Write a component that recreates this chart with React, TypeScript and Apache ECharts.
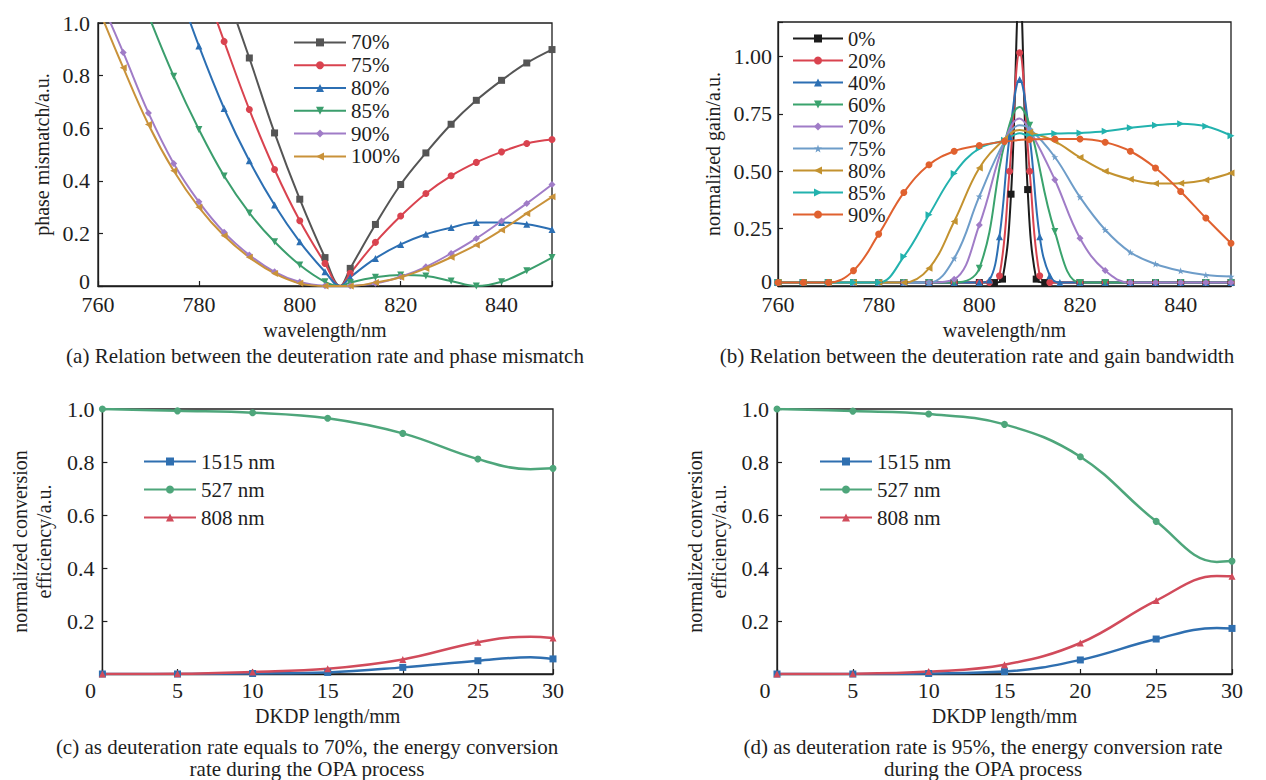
import { useEffect, useRef } from 'react';
import * as echarts from 'echarts';

const FONT = '"Liberation Serif", "Times New Roman", serif';
const INK = '#1e1e1e';

// ---------- (a) phase mismatch ----------
const PHASE_NAMES = ['70%', '75%', '80%', '85%', '90%', '100%'];
const PHASE_COLORS = ['#555555', '#d9434f', '#2c6fb3', '#3b9e6d', '#a07cc7', '#c9923a'];
const phase70 = [[785, 1.14], [790, 0.867], [795, 0.582], [800, 0.33], [805, 0.108], [808, 0], [810, 0.067], [815, 0.234], [820, 0.386], [825, 0.506], [830, 0.615], [835, 0.706], [840, 0.782], [845, 0.848], [850, 0.899]];
const phase75 = [[780, 1.2], [785, 0.93], [790, 0.671], [795, 0.443], [800, 0.248], [805, 0.086], [808, 0], [810, 0.048], [815, 0.166], [820, 0.266], [825, 0.352], [830, 0.419], [835, 0.47], [840, 0.51], [845, 0.542], [850, 0.557]];
const phase80 = [[775, 1.18], [780, 0.913], [785, 0.675], [790, 0.476], [795, 0.308], [800, 0.168], [805, 0.054], [808, 0], [810, 0.033], [815, 0.105], [820, 0.158], [825, 0.197], [830, 0.222], [835, 0.241], [840, 0.241], [845, 0.235], [850, 0.215]];
const phase85 = [[770, 1.03], [775, 0.798], [780, 0.595], [785, 0.418], [790, 0.278], [795, 0.168], [800, 0.08], [805, 0.016], [808, 0], [810, 0.013], [815, 0.033], [820, 0.042], [825, 0.038], [830, 0.019], [835, 0.0], [840, 0.016], [845, 0.058], [850, 0.108]];
const phase90 = [[760, 1.11], [765, 0.888], [770, 0.658], [775, 0.466], [780, 0.32], [785, 0.204], [790, 0.118], [795, 0.054], [800, 0.015], [805, 0.001], [808, 0], [810, 0.001], [815, 0.01], [820, 0.035], [825, 0.073], [830, 0.124], [835, 0.181], [840, 0.247], [845, 0.314], [850, 0.386]];
const phase100 = [[760, 1.06], [765, 0.83], [770, 0.614], [775, 0.438], [780, 0.299], [785, 0.191], [790, 0.109], [795, 0.048], [800, 0.01], [805, 0], [808, 0], [810, 0], [815, 0.013], [820, 0.033], [825, 0.067], [830, 0.109], [835, 0.156], [840, 0.213], [845, 0.276], [850, 0.339]];
const PHASE_DATA = [phase70, phase75, phase80, phase85, phase90, phase100];
const PHASE_HIDDEN_X = [808];

// ---------- (b) normalized gain ----------
const GAIN_NAMES = ['0%', '20%', '40%', '60%', '70%', '75%', '80%', '85%', '90%'];
const GAIN_COLORS = ['#1c1c1c', '#d9434f', '#2c6fb3', '#3aa36d', '#a07cc7', '#6e9dc9', '#c3922f', '#22b2ae', '#e0612f'];
const gain0 = [[760, 0.015], [765, 0.015], [770, 0.015], [775, 0.015], [780, 0.015], [785, 0.015], [790, 0.015], [795, 0.015], [800, 0.015], [803, 0.015], [804.6, 0.03], [806.3, 0.4], [808, 1.3], [809.6, 0.42], [811.3, 0.03], [813, 0.015], [820, 0.015], [825, 0.015], [830, 0.015], [835, 0.015], [840, 0.015], [845, 0.015], [850, 0.015]];
const gain20 = [[760, 0.015], [765, 0.015], [770, 0.015], [775, 0.015], [780, 0.015], [785, 0.015], [790, 0.015], [795, 0.015], [800, 0.015], [802, 0.015], [804, 0.045], [806, 0.5], [808, 1.016], [810, 0.5], [812, 0.045], [814, 0.015], [820, 0.015], [825, 0.015], [830, 0.015], [835, 0.015], [840, 0.015], [845, 0.015], [850, 0.015]];
const gain40 = [[760, 0.015], [765, 0.015], [770, 0.015], [775, 0.015], [780, 0.015], [785, 0.015], [790, 0.015], [795, 0.015], [800, 0.015], [802, 0.026], [804, 0.215], [806, 0.65], [808, 0.9], [810, 0.65], [812, 0.215], [814, 0.045], [816, 0.015], [820, 0.015], [825, 0.015], [830, 0.015], [835, 0.015], [840, 0.015], [845, 0.015], [850, 0.015]];
const gain60 = [[760, 0.015], [765, 0.015], [770, 0.015], [775, 0.015], [780, 0.015], [785, 0.015], [790, 0.015], [795, 0.015], [800, 0.077], [805, 0.62], [808, 0.78], [810, 0.7], [815, 0.237], [820, 0.015], [825, 0.015], [830, 0.015], [835, 0.015], [840, 0.015], [845, 0.015], [850, 0.015]];
const gain70 = [[760, 0.015], [765, 0.015], [770, 0.015], [775, 0.015], [780, 0.015], [785, 0.015], [790, 0.015], [795, 0.029], [800, 0.266], [805, 0.63], [808, 0.73], [810, 0.68], [815, 0.463], [820, 0.208], [825, 0.067], [830, 0.015], [835, 0.015], [840, 0.015], [845, 0.015], [850, 0.015]];
const gain75 = [[760, 0.015], [765, 0.015], [770, 0.015], [775, 0.015], [780, 0.015], [785, 0.015], [790, 0.015], [795, 0.12], [800, 0.39], [805, 0.63], [808, 0.7], [810, 0.685], [815, 0.562], [820, 0.387], [825, 0.245], [830, 0.147], [835, 0.096], [840, 0.066], [845, 0.048], [850, 0.041]];
const gain80 = [[760, 0.015], [765, 0.015], [770, 0.015], [775, 0.015], [780, 0.015], [785, 0.015], [790, 0.077], [795, 0.281], [800, 0.514], [805, 0.64], [808, 0.68], [810, 0.67], [815, 0.63], [820, 0.56], [825, 0.5], [830, 0.465], [835, 0.446], [840, 0.448], [845, 0.462], [850, 0.492]];
const gain85 = [[760, 0.015], [765, 0.015], [770, 0.015], [775, 0.015], [780, 0.015], [785, 0.128], [790, 0.31], [795, 0.49], [800, 0.6], [805, 0.635], [808, 0.665], [810, 0.655], [815, 0.664], [820, 0.667], [825, 0.674], [830, 0.689], [835, 0.7], [840, 0.707], [845, 0.696], [850, 0.655]];
const gain90 = [[760, 0.015], [765, 0.015], [770, 0.015], [775, 0.067], [780, 0.226], [785, 0.407], [790, 0.528], [795, 0.587], [800, 0.612], [805, 0.63], [810, 0.638], [815, 0.64], [820, 0.64], [825, 0.626], [830, 0.587], [835, 0.514], [840, 0.412], [845, 0.296], [850, 0.186]];
const GAIN_DATA = [gain0, gain20, gain40, gain60, gain70, gain75, gain80, gain85, gain90];
const GAIN_HIDDEN_X = [[], [], [], [808], [808], [808], [808], [808], []];

// ---------- (c), (d) conversion efficiency ----------
const CONV_NAMES = ['1515 nm', '527 nm', '808 nm'];
const CONV_COLORS = ['#2f6fb0', '#4ea67b', '#d14b5b'];
const lengthC = [0, 5, 10, 15, 20, 25, 28.5, 30];
const c1515 = [0, 0, 0.002, 0.006, 0.025, 0.05, 0.063, 0.057];
const c527 = [1.0, 0.993, 0.986, 0.965, 0.908, 0.811, 0.773, 0.776];
const c808 = [0, 0.001, 0.008, 0.02, 0.055, 0.12, 0.141, 0.136];
const lengthD = [0, 5, 10, 15, 20, 25, 29, 30];
const d1515 = [0, 0, 0.002, 0.009, 0.053, 0.132, 0.174, 0.172];
const d527 = [1.0, 0.992, 0.981, 0.942, 0.82, 0.576, 0.423, 0.426];
const d808 = [0, 0.001, 0.009, 0.035, 0.117, 0.277, 0.37, 0.369];
const CONV_HIDDEN_C = [28.5];
const CONV_HIDDEN_D = [29];

const DOWN_TRI = 'path://M0,0 L10,0 L5,9 Z';
const LEFT_TRI = 'path://M0,5 L9,0 L9,10 Z';
const RIGHT_TRI = 'path://M0,0 L9,5 L0,10 Z';
const STAR = 'path://M5,0 L6.2,3.6 L10,3.6 L7,5.9 L8.1,9.5 L5,7.3 L1.9,9.5 L3,5.9 L0,3.6 L3.8,3.6 Z';
const PHASE_SYMBOLS = ['rect', 'circle', 'triangle', DOWN_TRI, 'diamond', LEFT_TRI];
const GAIN_SYMBOLS = ['rect', 'circle', 'triangle', DOWN_TRI, 'diamond', STAR, LEFT_TRI, RIGHT_TRI, 'circle'];
const CONV_SYMBOLS = ['rect', 'circle', 'triangle'];

function toData(pts: number[][], hidden: number[]) {
  return pts.map(([x, y]) => (hidden.includes(x) ? { value: [x, y], symbol: 'none' } : [x, y]));
}

function zip(xs: number[], ys: number[]) {
  return xs.map((x, i) => [x, ys[i]]);
}

const TICK_FS = 22;
const axisText = { fontFamily: FONT, fontSize: TICK_FS, color: INK };
const nameText = { fontFamily: FONT, fontSize: 20, color: INK };
const zeroRich = { z: { fontFamily: FONT, fontSize: TICK_FS, color: INK, padding: [0, 0, 10, 0] } };

function caption(lines: string[], x: number, y: number) {
  return lines.map((t, i) => ({
    type: 'text',
    x,
    y: y + i * 22,
    silent: true,
    style: { text: t, fill: INK, fontFamily: FONT, fontSize: 21, align: 'center', verticalAlign: 'middle' },
  }));
}

function baseAxis(extra: any) {
  return {
    type: 'value',
    axisLine: { show: true, lineStyle: { color: INK, width: 1.3 } },
    axisTick: { show: true, inside: true, length: 5, lineStyle: { color: INK, width: 1.2 } },
    splitLine: { show: false },
    nameLocation: 'middle',
    nameTextStyle: nameText,
    ...extra,
  };
}

function lineSeries(name: string, data: any[], color: string, symbol: string, size: number, width: number) {
  return {
    type: 'line',
    name,
    data,
    smooth: 0.4,
    symbol,
    symbolSize: size,
    showAllSymbol: true,
    clip: true,
    lineStyle: { color, width },
    itemStyle: { color },
  };
}

const optionA = {
  animation: false,
  textStyle: { fontFamily: FONT },
  grid: { left: 98, top: 23, width: 454, height: 263, show: true, borderColor: INK, borderWidth: 1.3 },
  legend: {
    orient: 'vertical', left: 293, top: 31.5, padding: 0, itemWidth: 52, itemHeight: 10, itemGap: 1,
    textStyle: { fontFamily: FONT, fontSize: 21, color: INK, lineHeight: 21.8 },
    data: PHASE_NAMES,
  },
  xAxis: baseAxis({
    min: 760, max: 850, interval: 20,
    axisLabel: { ...axisText, margin: 7, formatter: (v: number) => (v % 20 === 0 ? String(v) : '') },
    name: 'wavelength/nm', nameGap: 30,
  }),
  yAxis: baseAxis({
    min: 0, max: 1, interval: 0.2,
    axisLabel: { ...axisText, margin: 8, rich: zeroRich, formatter: (v: number) => (v === 0 ? '{z|0}' : v.toFixed(1)) },
    name: 'phase mismatch/a.u.', nameGap: 42,
  }),
  series: PHASE_NAMES.map((n, i) => lineSeries(n, toData(PHASE_DATA[i], PHASE_HIDDEN_X), PHASE_COLORS[i], PHASE_SYMBOLS[i], 7, 2)),
  graphic: caption(['(a) Relation between the deuteration rate and phase mismatch'], 325, 356),
};

const optionB = {
  animation: false,
  textStyle: { fontFamily: FONT },
  grid: { left: 145, top: 22, width: 453, height: 264, show: true, borderColor: INK, borderWidth: 1.3 },
  legend: {
    orient: 'vertical', left: 159, top: 28, padding: 0, itemWidth: 50, itemHeight: 10, itemGap: 1,
    textStyle: { fontFamily: FONT, fontSize: 20.5, color: INK, lineHeight: 20.5 },
    data: GAIN_NAMES,
  },
  xAxis: baseAxis({
    min: 760, max: 850, interval: 20,
    axisLabel: { ...axisText, margin: 7, formatter: (v: number) => (v % 20 === 0 ? String(v) : '') },
    name: 'wavelength/nm', nameGap: 30,
  }),
  yAxis: baseAxis({
    min: 0, max: 1.15, interval: 0.25,
    axisLabel: {
      ...axisText, margin: 6, rich: zeroRich,
      formatter: (v: number) => (v === 0 ? '{z|0}' : v > 1.1 ? '' : v.toFixed(2)),
    },
    name: 'normalized gain/a.u.', nameGap: 52,
  }),
  series: GAIN_NAMES.map((n, i) => lineSeries(n, toData(GAIN_DATA[i], GAIN_HIDDEN_X[i]), GAIN_COLORS[i], GAIN_SYMBOLS[i], 7, 2)),
  graphic: caption(['(b) Relation between the deuteration rate and gain bandwidth'], 344, 356),
};

function convOption(left: number, lengths: number[], series: number[][], hidden: number[], legendLeft: number, cap: string[], capX: number) {
  return {
    animation: false,
    textStyle: { fontFamily: FONT },
    grid: { left, top: 19, width: 455, height: 265, show: true, borderColor: INK, borderWidth: 1.3 },
    legend: {
      orient: 'vertical', left: legendLeft, top: 57.5, padding: 0, itemWidth: 52, itemHeight: 10, itemGap: 0,
      textStyle: { fontFamily: FONT, fontSize: 21, color: INK, lineHeight: 28 },
      data: CONV_NAMES,
    },
    xAxis: baseAxis({
      min: 0, max: 30, interval: 5,
      axisLabel: {
        ...axisText, margin: 5,
        formatter: (v: number) => (v === 0 ? '{z|0}' : String(v)),
        rich: { z: { fontFamily: FONT, fontSize: TICK_FS, color: INK, padding: [0, 24, 0, 0] } },
      },
      name: 'DKDP length/mm', nameGap: 30,
    }),
    yAxis: baseAxis({
      min: 0, max: 1, interval: 0.2,
      axisLabel: { ...axisText, margin: 8, formatter: (v: number) => (v === 0 ? '' : v.toFixed(1)) },
      name: 'normalized conversion\nefficiency/a.u.', nameGap: 44,
      nameTextStyle: { ...nameText, lineHeight: 24 },
    }),
    series: CONV_NAMES.map((n, i) => lineSeries(n, toData(zip(lengths, series[i]), hidden), CONV_COLORS[i], CONV_SYMBOLS[i], 7, 2.5)),
    graphic: caption(cap, capX, 357),
  };
}

const optionC = convOption(98, lengthC, [c1515, c527, c808], CONV_HIDDEN_C, 143,
  ['(c) as deuteration rate equals to 70%, the energy conversion', 'rate during the OPA process'], 307);
const optionD = convOption(144, lengthD, [d1515, d527, d808], CONV_HIDDEN_D, 186,
  ['(d) as deuteration rate is 95%, the energy conversion rate', 'during the OPA process'], 350);

function Panel({ option, left, top }: { option: any; left: number; top: number }) {
  const ref = useRef<HTMLDivElement>(null);
  useEffect(() => {
    const chart = echarts.init(ref.current as HTMLDivElement, null, { renderer: 'svg' });
    chart.setOption(option);
    return () => chart.dispose();
  }, [option]);
  return <div ref={ref} style={{ position: 'absolute', left, top, width: 633, height: 390 }} />;
}

export default function App() {
  return (
    <div style={{ position: 'fixed', left: 0, top: 0, width: 1266, height: 780, background: '#fff', overflow: 'hidden' }}>
      <Panel option={optionA} left={0} top={0} />
      <Panel option={optionB} left={633} top={0} />
      <Panel option={optionC} left={0} top={390} />
      <Panel option={optionD} left={633} top={390} />
    </div>
  );
}
